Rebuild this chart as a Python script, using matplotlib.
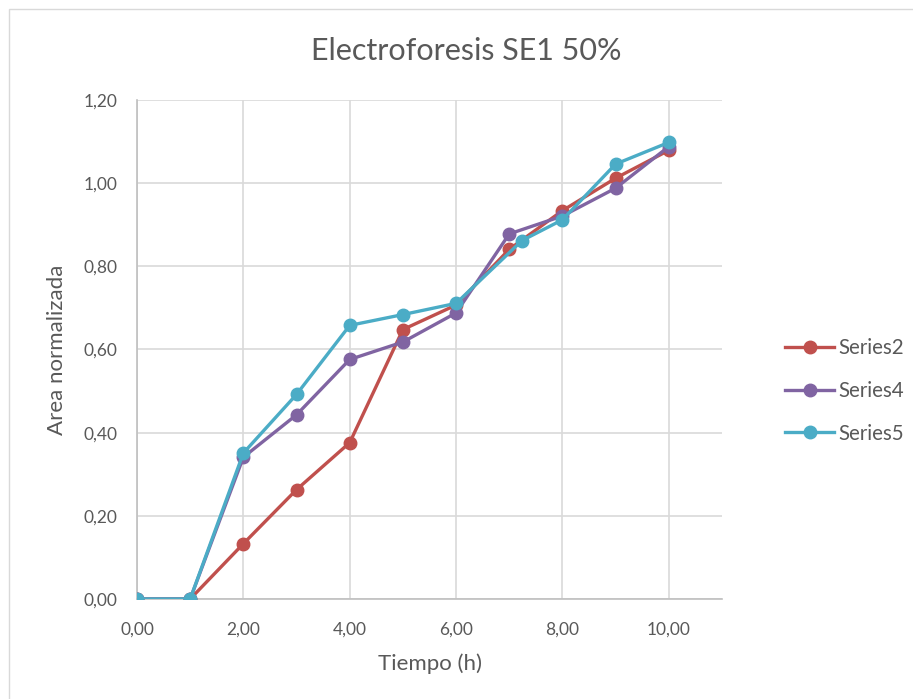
import matplotlib
matplotlib.use("Agg")
import matplotlib.pyplot as plt
from matplotlib.ticker import FuncFormatter, MultipleLocator
from matplotlib.patches import Rectangle

# values
x_main = [0, 1, 2, 3, 4, 5, 6, 7, 8, 9, 10]
x_s5 = [0, 1, 2, 3, 4, 5, 6, 7.24, 8, 9, 10]
series2 = [0, 0, 0.133, 0.263, 0.376, 0.648, 0.707, 0.841, 0.934, 1.012, 1.079]
series4 = [0, 0, 0.341, 0.443, 0.576, 0.618, 0.688, 0.878, 0.921, 0.988, 1.088]
series5 = [0, 0, 0.351, 0.492, 0.658, 0.684, 0.711, 0.862, 0.912, 1.046, 1.098]

text_color = "#595959"
plt.rcParams["font.family"] = ["Lato", "DejaVu Sans"]

fig = plt.figure(figsize=(9.13, 6.99), dpi=100)
ax = fig.add_axes([137 / 913, 1 - 599 / 699, (722 - 137) / 913, (599 - 100) / 699])

# chart border like the office export
fig.patches.append(Rectangle((9 / 913, -0.01), 1.0, 1 - 9 / 699 + 0.01,
                             transform=fig.transFigure, fill=False,
                             edgecolor="#D9D9D9", linewidth=1.0))

ax.plot(x_main, series2, color="#C0504D", lw=2.4, marker="o", ms=9, label="Series2", zorder=3)
ax.plot(x_main, series4, color="#8064A2", lw=2.4, marker="o", ms=9, label="Series4", zorder=4)
ax.plot(x_s5, series5, color="#4BACC6", lw=2.4, marker="o", ms=9, label="Series5", zorder=5)

ax.set_xlim(0, 11)
ax.set_ylim(0, 1.2)
ax.xaxis.set_major_locator(MultipleLocator(2))
ax.yaxis.set_major_locator(MultipleLocator(0.2))
comma = FuncFormatter(lambda v, p: f"{v:.2f}".replace(".", ","))
ax.xaxis.set_major_formatter(comma)
ax.yaxis.set_major_formatter(comma)

ax.grid(True, color="#D9D9D9", linewidth=1.2)
ax.set_axisbelow(True)
for side in ["top", "right"]:
    ax.spines[side].set_visible(False)
for side in ["left", "bottom"]:
    ax.spines[side].set_color("#BFBFBF")
    ax.spines[side].set_linewidth(1.2)
ax.tick_params(length=0, labelsize=12.5, colors=text_color)
ax.tick_params(axis="x", pad=16)
ax.tick_params(axis="y", pad=14)

ax.set_xlabel("Tiempo (h)", fontsize=16, color=text_color, labelpad=12)
ax.set_ylabel("Area normalizada", fontsize=16, color=text_color, labelpad=12)
fig.text(0.511, 1 - 51 / 699, "Electroforesis SE1 50%", fontsize=22, color=text_color,
         ha="center", va="center")

fig.legend(loc="center left", bbox_to_anchor=(0.8395, 1 - 391 / 699), frameon=False,
           fontsize=14.8, handlelength=2.4, handletextpad=0.2, labelspacing=1.1,
           labelcolor=text_color)

plt.savefig("out.png", dpi=100)
